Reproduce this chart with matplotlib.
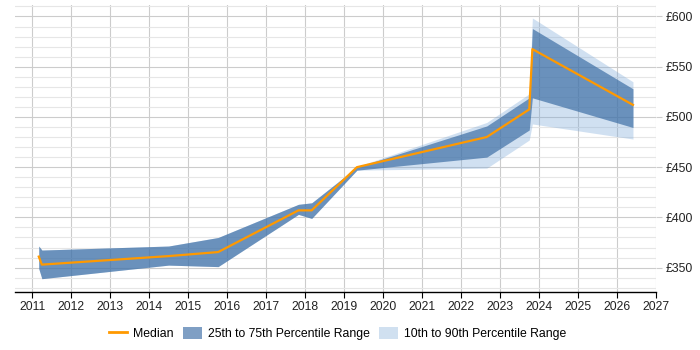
import matplotlib
matplotlib.use("Agg")
import matplotlib.pyplot as plt
from matplotlib.ticker import MultipleLocator, FuncFormatter
from matplotlib.patches import Patch
from matplotlib.lines import Line2D

plt.rcParams['font.family'] = ['Liberation Sans', 'DejaVu Sans']

years = [2011.17, 2011.25, 2014.5, 2015.77, 2017.83, 2018.17, 2019.33, 2022.66, 2023.75, 2023.83, 2026.41]
median = [361, 353, 361.5, 365.5, 407, 407, 450, 480, 507.5, 567.5, 512]
p75 = [371.5, 367.5, 371.5, 380, 413, 414.5, 450, 491, 519, 588, 528]
p25 = [349, 339, 352.5, 351, 403, 399, 447, 460, 487, 519, 489.5]
p90 = [371.5, 367.5, 371.5, 380, 413, 414.5, 450.5, 494.5, 523, 598.5, 535]
p10 = [349, 339, 352.5, 351, 403, 399, 447, 449, 477, 493, 478]

xticks = list(range(2011, 2028))
yticks = [350, 400, 450, 500, 550, 600]

fig = plt.figure(figsize=(7, 3.5), dpi=100)
ax = fig.add_axes([0.0214, 0.165, 0.9157, 0.821])

ax.fill_between(years, p10, p90, color=(0.48, 0.66, 0.85), alpha=0.35, linewidth=0, zorder=2)
ax.fill_between(years, p25, p75, color='#3a6ca3', alpha=0.68, linewidth=0, zorder=3)
ax.plot(years, median, color='#ff9900', linewidth=1.6, zorder=4)

ax.set_xlim(2010.56, 2027)
ax.set_ylim(325.5, 611.5)
ax.set_xticks(xticks)
ax.set_xticklabels([str(t) for t in xticks])
ax.set_yticks(yticks)
ax.yaxis.set_minor_locator(MultipleLocator(10))
ax.yaxis.set_major_formatter(FuncFormatter(lambda v, p: '£%d' % v))
ax.yaxis.tick_right()
ax.yaxis.set_label_position('right')

ax.grid(True, which='major', axis='both', color='#cccccc', linewidth=0.8, zorder=1)
ax.grid(True, which='minor', axis='y', color='#e6e6e6', linewidth=0.8, zorder=1)
ax.set_axisbelow(True)

for s in ['top', 'left', 'right']:
    ax.spines[s].set_visible(False)
ax.spines['bottom'].set_color('black')
ax.spines['bottom'].set_linewidth(1.0)

ax.tick_params(axis='x', which='major', length=4, color='black', labelsize=8.8, pad=2, labelcolor='#222222')
ax.tick_params(axis='y', which='major', length=4, color='#cccccc', labelsize=8.8, pad=3, labelcolor='#222222')
ax.tick_params(axis='y', which='minor', length=0)

handles = [
    Line2D([0], [0], color='#ff9900', linewidth=2),
    Patch(facecolor='#7f9fc4', edgecolor='none'),
    Patch(facecolor='#d0e0f0', edgecolor='none'),
]
labels = ['Median', '25th to 75th Percentile Range', '10th to 90th Percentile Range']
fig.legend(handles, labels, loc='center', bbox_to_anchor=(0.482, 0.047), ncol=3,
           frameon=False, fontsize=8.8, handlelength=1.5, handleheight=1.1,
           columnspacing=0.8, handletextpad=0.5)

fig.savefig('out.png', dpi=100)
